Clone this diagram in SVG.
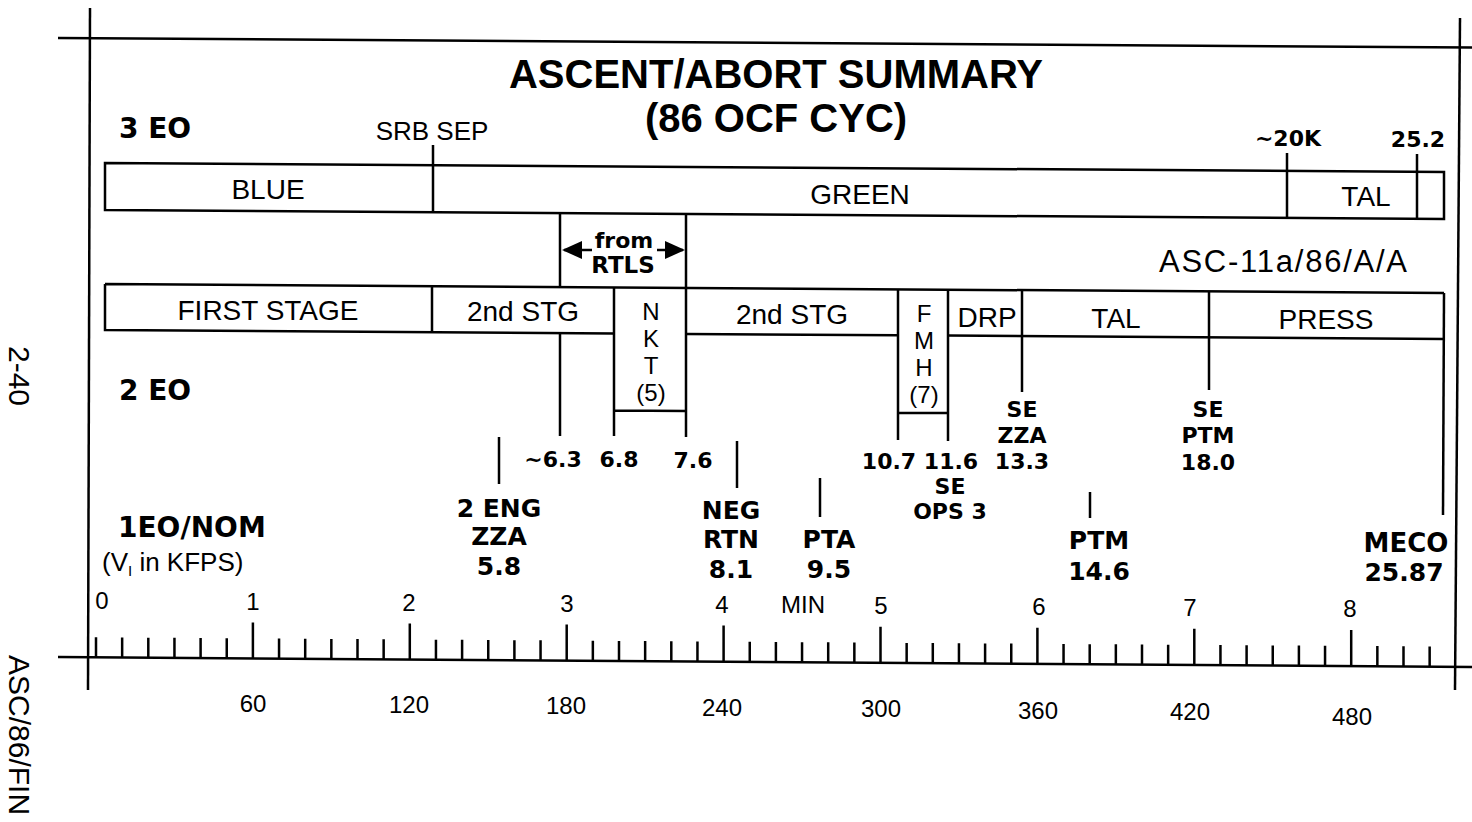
<svg xmlns="http://www.w3.org/2000/svg" width="1472" height="822" viewBox="0 0 1472 822">
<defs>
<style>
.ln{stroke:#000;stroke-width:2.5;fill:none}
.r{font-family:"Liberation Sans",Arial,sans-serif;fill:#000}
.b{font-family:"DejaVu Sans","Liberation Sans",sans-serif;font-weight:bold;fill:#000}
.tb{font-family:"Liberation Sans",Arial,sans-serif;font-weight:bold;fill:#000}
.m{text-anchor:middle}
.lab{font-size:28px}
.vl{font-size:24px}
.up{font-size:22px}
.lo{font-size:25px}
.ax{font-size:24px}
</style>
<marker id="ah" viewBox="0 0 20 18" refX="18" refY="9" markerWidth="20" markerHeight="18" markerUnits="userSpaceOnUse" orient="auto"><path d="M0,0 L20,9 L0,18 Z" fill="#000"/></marker>
</defs>
<rect width="1472" height="822" fill="#fff"/>

<g id="frame" class="ln">
<path d="M58,38 L1472,47.5"/>
<path d="M90,8 L88,690"/>
<path d="M1460,18 L1455,690"/>
<path d="M58,657 L1472,667"/>
</g>

<g id="ticks">
<path class="ln" d="M96,657.3 v-20 m26.15,20.18 v-20 m26.15,20.18 v-20 m26.15,20.18 v-20 m26.15,20.18 v-20 m26.15,20.18 v-20 m26.15,20.18 v-36
m26.15,36.18 v-20 m26.15,20.18 v-20 m26.15,20.18 v-20 m26.15,20.18 v-20 m26.15,20.18 v-20 m26.15,20.18 v-36
m26.15,36.18 v-20 m26.15,20.18 v-20 m26.15,20.18 v-20 m26.15,20.18 v-20 m26.15,20.18 v-20 m26.15,20.18 v-36
m26.15,36.18 v-20 m26.15,20.18 v-20 m26.15,20.18 v-20 m26.15,20.18 v-20 m26.15,20.18 v-20 m26.15,20.18 v-36
m26.15,36.18 v-20 m26.15,20.18 v-20 m26.15,20.18 v-20 m26.15,20.18 v-20 m26.15,20.18 v-20 m26.15,20.18 v-36
m26.15,36.18 v-20 m26.15,20.18 v-20 m26.15,20.18 v-20 m26.15,20.18 v-20 m26.15,20.18 v-20 m26.15,20.18 v-36
m26.15,36.18 v-20 m26.15,20.18 v-20 m26.15,20.18 v-20 m26.15,20.18 v-20 m26.15,20.18 v-20 m26.15,20.18 v-36
m26.15,36.18 v-20 m26.15,20.18 v-20 m26.15,20.18 v-20 m26.15,20.18 v-20 m26.15,20.18 v-20 m26.15,20.18 v-36
m26.15,36.18 v-20 m26.15,20.18 v-20 m26.15,20.18 v-20"/>
<g class="r ax m">
<text x="102" y="609">0</text>
<text x="253" y="610">1</text>
<text x="409" y="611">2</text>
<text x="567" y="612">3</text>
<text x="722" y="613">4</text>
<text x="803" y="613">MIN</text>
<text x="881" y="614">5</text>
<text x="1039" y="615">6</text>
<text x="1190" y="616">7</text>
<text x="1350" y="617">8</text>
<text x="253" y="712">60</text>
<text x="409" y="713">120</text>
<text x="566" y="714">180</text>
<text x="722" y="716">240</text>
<text x="881" y="717">300</text>
<text x="1038" y="719">360</text>
<text x="1190" y="720">420</text>
<text x="1352" y="725">480</text>
</g>
</g>

<g id="title" class="tb m">
<text x="776" y="88" font-size="40">ASCENT/ABORT SUMMARY</text>
<text x="776" y="132" font-size="40">(86 OCF CYC)</text>
</g>

<g id="margin" class="r">
<text x="9" y="376" font-size="30" text-anchor="middle" transform="rotate(90 9 376)">2-40</text>
<text x="9" y="655" font-size="30" transform="rotate(90 9 655)">ASC/86/FIN</text>
</g>

<g id="row-3eo">
<text class="b" font-size="28" x="119" y="138">3 EO</text>
<text class="r m" font-size="26" x="432" y="140">SRB SEP</text>
<text class="b up m" x="1288" y="146">~20K</text>
<text class="b up m" x="1418" y="147">25.2</text>
<path class="ln" d="M105,163 L1444,172 L1444,219 L105,210 Z"/>
<path class="ln" d="M433,145 V212.2 M1287,153 V217.9 M1417,154 V218.8"/>
<g class="r lab m">
<text x="268" y="199">BLUE</text>
<text x="860" y="204">GREEN</text>
<text x="1366" y="206">TAL</text>
</g>
</g>

<g id="rtls">
<path class="ln" d="M560,213 V286.8 M686,213.9 V437"/>
<path class="ln" d="M592,250 L564,250" marker-end="url(#ah)"/>
<path class="ln" d="M657,250 L683,250" marker-end="url(#ah)"/>
<text class="b m" font-size="22" x="624" y="248">from</text>
<text class="b m" font-size="23" x="623" y="273">RTLS</text>
</g>

<text id="asc-id" class="r m" font-size="31" x="1283" y="272" textLength="248">ASC-11a/86/A/A</text>

<g id="row-2eo">
<path class="ln" d="M105,284 L1444,293 M105,284 V330 L614,333.4 M686,333.9 L898,335.3 M948,335.6 L1444,339 M432,286.2 V332.2"/>
<g class="r lab m">
<text x="268" y="320">FIRST STAGE</text>
<text x="523" y="321">2nd STG</text>
<text x="792" y="324">2nd STG</text>
<text x="987" y="327">DRP</text>
<text x="1116" y="328">TAL</text>
<text x="1326" y="329">PRESS</text>
</g>
<text class="b" font-size="28" x="119" y="400">2 EO</text>
</g>

<g id="nkt">
<path class="ln" d="M614,287.4 V436 M614,410.5 L686,411"/>
<g class="r vl m">
<text x="651" y="320">N</text>
<text x="651" y="347">K</text>
<text x="651" y="374">T</text>
<text x="651" y="401">(5)</text>
</g>
</g>

<g id="fmh">
<path class="ln" d="M898,289.3 V440 M948,289.6 V441 M898,413 L948,413"/>
<g class="r vl m">
<text x="924" y="322">F</text>
<text x="924" y="349">M</text>
<text x="924" y="376">H</text>
<text x="924" y="403">(7)</text>
</g>
</g>

<g id="connectors" class="ln">
<path d="M560,333 V436"/>
<path d="M1022,290.1 V392"/>
<path d="M1209,291.4 V390"/>
<path d="M1444,293 L1443,515"/>
<path d="M499,437 V484"/>
<path d="M737,441 V488"/>
<path d="M820,478 V517"/>
<path d="M1090,492 V518"/>
</g>

<g id="upper-labels" class="b up m">
<text x="553" y="467">~6.3</text>
<text x="619" y="467">6.8</text>
<text x="693" y="468">7.6</text>
<text x="889" y="469">10.7</text>
<text x="951" y="469">11.6</text>
<text x="1022" y="417">SE</text>
<text x="1022" y="443">ZZA</text>
<text x="1022" y="469">13.3</text>
<text x="1208" y="417">SE</text>
<text x="1208" y="443">PTM</text>
<text x="1208" y="470">18.0</text>
<text x="950" y="494">SE</text>
<text x="950" y="519">OPS 3</text>
</g>

<g id="lower-labels" class="b lo m">
<text x="499" y="517">2 ENG</text>
<text x="499" y="545">ZZA</text>
<text x="499" y="575">5.8</text>
<text x="731" y="519">NEG</text>
<text x="731" y="548">RTN</text>
<text x="731" y="578">8.1</text>
<text x="829" y="548">PTA</text>
<text x="829" y="578">9.5</text>
<text x="1099" y="549">PTM</text>
<text x="1099" y="580">14.6</text>
<text x="1406" y="552" font-size="26">MECO</text>
<text x="1404" y="581">25.87</text>
</g>

<g id="row-1eo">
<text class="b" font-size="28" x="118" y="537">1EO/NOM</text>
<text class="r" font-size="26" x="102" y="571">(V<tspan font-size="15" dy="5">I</tspan><tspan dy="-5"> in KFPS)</tspan></text>
</g>
</svg>
